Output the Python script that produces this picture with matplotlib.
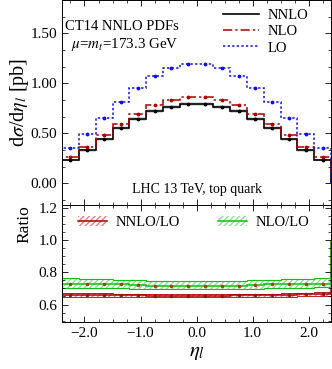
import numpy as np
import matplotlib
matplotlib.use('Agg')
import matplotlib.pyplot as plt
from matplotlib.ticker import MultipleLocator, FuncFormatter
from matplotlib.patches import Patch
from matplotlib.lines import Line2D

plt.rcParams['font.family'] = ['Liberation Serif', 'DejaVu Serif']
plt.rcParams['mathtext.fontset'] = 'stix'

#%% data (16 bins of width 0.3 in eta_l)
edges = np.linspace(-2.4, 2.4, 17)
lo   = [0.353, 0.49, 0.65, 0.81, 0.95, 1.075, 1.15, 1.19,
        1.19, 1.15, 1.075, 0.95, 0.81, 0.65, 0.49, 0.353]
nlo  = [0.26, 0.36, 0.48, 0.59, 0.69, 0.78, 0.83, 0.863,
        0.863, 0.83, 0.78, 0.69, 0.59, 0.48, 0.36, 0.26]
nnlo = [0.23, 0.33, 0.44, 0.55, 0.64, 0.72, 0.765, 0.795,
        0.795, 0.765, 0.72, 0.64, 0.55, 0.44, 0.33, 0.235]
nnlo_err = [0.012, 0.014, 0.016, 0.018, 0.02, 0.02, 0.021, 0.021,
            0.021, 0.021, 0.02, 0.02, 0.018, 0.016, 0.014, 0.012]

r_nlo  = [0.730, 0.729, 0.727, 0.725, 0.721, 0.718, 0.716, 0.715,
          0.715, 0.716, 0.718, 0.721, 0.725, 0.727, 0.729, 0.731]
r_nlo_hi = [0.765, 0.762, 0.758, 0.754, 0.750, 0.747, 0.745, 0.744,
            0.744, 0.745, 0.747, 0.750, 0.754, 0.758, 0.762, 0.766]
r_nlo_lo = [0.706, 0.704, 0.702, 0.700, 0.698, 0.696, 0.695, 0.694,
            0.694, 0.695, 0.696, 0.698, 0.700, 0.702, 0.704, 0.707]
r_nnlo = [0.662, 0.661, 0.661, 0.660, 0.658, 0.656, 0.655, 0.655,
          0.655, 0.656, 0.657, 0.658, 0.660, 0.661, 0.663, 0.667]
r_nnlo_hi = [0.672, 0.670, 0.669, 0.668, 0.666, 0.664, 0.663, 0.663,
             0.663, 0.664, 0.665, 0.666, 0.668, 0.670, 0.672, 0.676]
r_nnlo_lo = [0.648, 0.648, 0.648, 0.647, 0.646, 0.645, 0.645, 0.645,
             0.645, 0.645, 0.646, 0.647, 0.648, 0.649, 0.651, 0.655]

centers = 0.5*(edges[1:] + edges[:-1])

red = '#b00000'
blue = '#1010ee'
green = '#10c010'

def fmt(nd):
    # tick labels with a real minus sign
    return FuncFormatter(lambda v, p: ('%.*f' % (nd, v)).replace('-', '\u2212'))

#%% figure
fig = plt.figure(figsize=(3.32, 3.69), dpi=100)
ax1 = fig.add_axes([0.187, 0.444, 0.810, 0.555])
ax2 = fig.add_axes([0.187, 0.127, 0.810, 0.317], sharex=ax1)

# top panel
ax1.stairs(np.array(nnlo)+np.array(nnlo_err), edges,
           baseline=np.array(nnlo)-np.array(nnlo_err), fill=True,
           color='#c8c8c8', alpha=0.7, lw=0)
ax1.stairs(nnlo, edges, baseline=0, color='black', lw=1.2)
ax1.stairs(nlo, edges, baseline=0, color=red, lw=1.1, ls=(0, (6, 2, 1.5, 2)))
ax1.stairs(lo, edges, baseline=0, color=blue, lw=1.1, ls=(0, (1.5, 1.5)))
ax1.plot(centers, nnlo, '.', color='black', ms=3.5)
ax1.plot(centers, nlo, '.', color=red, ms=3.5)
ax1.plot(centers, lo, '.', color=blue, ms=3.5)

ax1.set_xlim(-2.4, 2.4)
ax1.set_ylim(-0.22, 1.83)
ax1.yaxis.set_major_locator(MultipleLocator(0.5))
ax1.yaxis.set_minor_locator(MultipleLocator(0.5/3))
ax1.yaxis.set_major_formatter(fmt(2))
ax1.set_ylabel(r'd$\sigma$/d$\eta_{l}$ [pb]', fontsize=14.5, labelpad=0)
ax1.tick_params(labelbottom=False)

ax1.text(0.01, 0.872, 'CT14 NNLO PDFs', transform=ax1.transAxes, fontsize=10.5,
         va='center')
ax1.text(0.035, 0.785, r'$\mu$=$m_t$=173.3 GeV', transform=ax1.transAxes,
         fontsize=10.8, va='center')
ax1.text(0.5, 0.075, 'LHC 13 TeV, top quark', transform=ax1.transAxes,
         fontsize=10, ha='center', va='center')

h1 = [Line2D([], [], color='black', lw=1.2),
      Line2D([], [], color=red, lw=1.1, ls=(0, (6, 2, 1.5, 2))),
      Line2D([], [], color=blue, lw=1.1, ls=(0, (1.5, 1.5)))]
ax1.legend(h1, ['NNLO', 'NLO', 'LO'], loc='upper right', frameon=False,
           fontsize=10.5, handlelength=2.5, labelspacing=0.2,
           handletextpad=0.6, borderaxespad=0.2, bbox_to_anchor=(0.95, 1.0))

# ratio panel
ax2.stairs(r_nnlo_hi, edges, baseline=r_nnlo_lo, fill=True,
           facecolor='none', edgecolor='#e88080', hatch='//////', lw=0)
ax2.stairs(r_nnlo_hi, edges, color=red, lw=0.6, baseline=None)
ax2.stairs(r_nnlo_lo, edges, color=red, lw=0.6, baseline=None)
ax2.stairs(r_nnlo, edges, baseline=1.0, color=red, lw=1.1)
ax2.stairs(r_nlo_hi, edges, baseline=r_nlo_lo, fill=True,
           facecolor='none', edgecolor='#90e090', hatch='//////', lw=0)
ax2.stairs(r_nlo_hi, edges, color=green, lw=0.8, baseline=None)
ax2.stairs(r_nlo_lo, edges, color=green, lw=0.8, baseline=None)
ax2.stairs(r_nlo, edges, baseline=1.0, color=green, lw=1.1)
ax2.plot(centers, r_nnlo, '.', color='#802010', ms=3)
ax2.plot(centers, r_nlo, '.', color='#a04020', ms=3)

ax2.set_ylim(0.49, 1.22)
ax2.yaxis.set_major_locator(MultipleLocator(0.2))
ax2.yaxis.set_minor_locator(MultipleLocator(0.05))
ax2.yaxis.set_major_formatter(fmt(1))
ax2.xaxis.set_major_locator(MultipleLocator(1.0))
ax2.xaxis.set_minor_locator(MultipleLocator(0.25))
ax2.xaxis.set_major_formatter(fmt(1))
ax2.set_ylabel('Ratio', fontsize=12.5, labelpad=4, loc='top')
ax2.set_xlabel(r'$\eta_{l}$', fontsize=15, labelpad=2)

h2 = [(Patch(facecolor='none', edgecolor='#e88080', hatch='//////', lw=0),
       Line2D([], [], color=red, lw=1.1)),
      (Patch(facecolor='none', edgecolor='#90e090', hatch='//////', lw=0),
       Line2D([], [], color=green, lw=1.1))]
ax2.legend(h2, ['NNLO/LO', 'NLO/LO'], loc='upper left', ncol=2,
           frameon=False, fontsize=10.5, handlelength=2.0, columnspacing=2.6,
           handletextpad=0.6, bbox_to_anchor=(0.01, 1.02))

for ax in (ax1, ax2):
    ax.tick_params(which='both', direction='in', top=True, right=True,
                   labelsize=11)
    ax.tick_params(which='major', length=4, width=0.6)
    ax.tick_params(which='minor', length=2, width=0.5)
    for s in ax.spines.values():
        s.set_linewidth(0.7)

fig.savefig('out.png', dpi=100)
